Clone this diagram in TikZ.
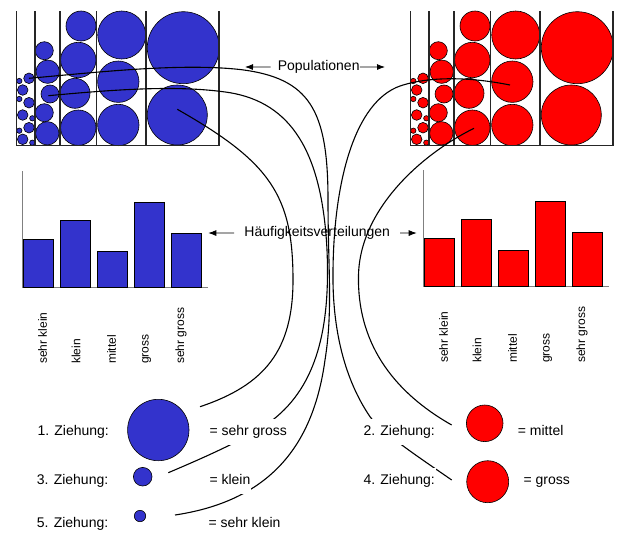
\documentclass[tikz,border=0pt]{standalone}
\usepackage{fontspec}
\setmainfont{Liberation Sans}
\usetikzlibrary{arrows.meta}

\definecolor{popblue}{RGB}{51,51,204}
\definecolor{popred}{RGB}{255,0,0}

\tikzset{
  kugel/.style={circle,draw=black,line width=0.6pt,inner sep=0pt},
  ball/.style={draw=black,line width=0.6pt},
  frame/.style={black!85,line width=1.4pt},
  bar/.style={draw=black,line width=0.9pt},
  axisline/.style={gray,line width=1pt},
  zug/.style={line width=1.1pt,line join=round},
  pfeil/.style={-{Latex[length=8pt,width=6pt]},line width=0.8pt},
  titel/.style={font=\fontsize{14}{16}\selectfont,inner sep=0pt,anchor=base},
  klasse/.style={font=\fontsize{12}{14}\selectfont,rotate=90,anchor=west,inner sep=0pt},
  ziehung/.style={font=\fontsize{14}{16}\selectfont,fill=white,text height=10pt,text depth=3pt,
    inner xsep=1pt,inner ysep=6.5pt,anchor=base west}
}

\begin{document}
\begin{tikzpicture}[x=1pt,y=-1pt]
	\useasboundingbox (0,0) rectangle (628,549);

	%populations
	\foreach \dx/\col in {0/popblue,394/popred}{
	\begin{scope}[xshift=\dx]
		\foreach \x/\y/\r in {19.3/81/2.7, 22.7/90/5.3, 19.3/99/2.7, 29/102.7/5.3, 22.7/115/5.3, 32.3/118.3/2.7,
			29/127.7/5.3, 19.3/130.7/2.7, 22.7/139.3/5.3, 32.3/142.7/2.7, 29/78.3/5.3,
			44.3/50.7/9, 47.7/71.7/11.7, 50/94/9, 44.3/112.7/9, 47.3/133.3/11.7,
			81/26/15, 78.3/60/17.7, 75/93.3/15, 78.3/127.7/17.7,
			121.7/35/24, 118.3/81.7/20.7, 118.3/125/20.7,
			183.3/47.7/36, 177.3/115/30}
			\draw[ball,fill=\col] (\x,\y) circle[radius=\r];
		\foreach \x in {16.7,35,60,96.7,146,219}
			\draw[frame] (\x,11) -- (\x,145.7);
		\draw[frame] (16.7,145.7) -- (219,145.7);
	\end{scope}
	}

	%histograms
	\foreach \dx/\dy/\col/\side in {0/0/popblue/b,401/1/popred/r}{
	\begin{scope}[xshift=\dx,yshift=\dy]
		\draw[axisline] (22.7,171) -- (22.7,287.7) -- (208.3,287.7);
		\foreach \i/\h in {0/48.4,1/67.4,2/36.7,3/85.4,4/54.4}
			\draw[bar,fill=\col] ({23+37*\i},287.7) rectangle ++(30,-\h);
		\foreach \x/\name [count=\k] in {42.7/sehr klein,76/klein,111.7/mittel,146.7/gross,181/sehr gross}
			\node[klasse] (kl\side\k) at (\x,364) {\name};
	\end{scope}
	}

	\node[titel] (pop) at (318.7,70.7) {Populationen};
	\coordinate (popL) at (245,67); \coordinate (popR) at (385,67);
	\draw[pfeil] ([xshift=-7pt]pop.west) -- (popL);
	\draw[pfeil] (pop.east) -- (popR);

	\node[titel] (hv) at (317.2,236.7) {Häufigkeitsverteilungen};
	\coordinate (hvL) at (208.3,233); \coordinate (hvR) at (416.7,233);
	\draw[pfeil] ([xshift=-10pt]hv.west) -- (hvL);
	\draw[pfeil] ([xshift=10pt]hv.east) -- (hvR);

	%draws
	\coordinate (sSK) at (29,78.3);   \coordinate (eSK) at (175,515);
	\coordinate (sK) at (48.3,95.7);  \coordinate (eK) at (168.3,472.7);
	\coordinate (sSG) at (177.3,109.3); \coordinate (eSG) at (200,406.7);
	\coordinate (sG) at (510,85);     \coordinate (eG) at (451.7,480);
	\coordinate (sM) at (474,128.3);  \coordinate (eM) at (451.7,425);

	\draw[zug] (sSK) .. controls (100,72) and (180,63) .. (240,69.5)
		.. controls (310,78) and (328,110) .. (328,200)
		.. controls (328,270) and (333,310) .. (325,360)
		.. controls (314,440) and (275,500) .. (eSK);
	\draw[zug] (sK) .. controls (120,89) and (180,85) .. (230,92.7)
		.. controls (290,103) and (322,150) .. (327,250)
		.. controls (330,320) and (320,380) .. (276.7,416.7)
		.. controls (255,435) and (210,455) .. (eK);
	\draw[zug] (sSG) .. controls (270,162) and (293,195) .. (293,280)
		.. controls (293,350) and (265,385) .. (eSG);
	\draw[zug] (sG) .. controls (470,77) and (430,76) .. (400,86)
		.. controls (355,102) and (334,180) .. (333,270)
		.. controls (332,330) and (345,380) .. (370,416.7)
		.. controls (382,433) and (420,458) .. (eG);
	\draw[zug] (sM) .. controls (420,155) and (360,210) .. (358.5,275)
		.. controls (357,340) and (390,390) .. (eM);

	%results
	\node[ziehung] (t1) at (36.3,435) {1. Ziehung:};
	\node[ziehung] (e1) at (208.3,435) {= sehr gross};
	\node[ziehung] (t3) at (35.7,484.3) {3. Ziehung:};
	\node[ziehung] (e3) at (208.3,484.3) {= klein};
	\node[ziehung] (t5) at (35.7,527.7) {5. Ziehung:};
	\node[ziehung] (e5) at (207.3,527.7) {= sehr klein};
	\node[ziehung] (t2) at (362.3,435) {2. Ziehung:};
	\node[ziehung] (e2) at (516.7,435) {= mittel};
	\node[ziehung] (t4) at (362.3,484.3) {4. Ziehung:};
	\node[ziehung] (e4) at (522.3,484.3) {= gross};

	\node[kugel,fill=popblue,minimum size=61.4pt] (z1) at (158.3,430) {};
	\node[kugel,fill=popblue,minimum size=18.6pt] (z3) at (142.7,476.7) {};
	\node[kugel,fill=popblue,minimum size=11.4pt] (z5) at (140,516) {};
	\node[kugel,fill=popred,minimum size=36.6pt] (z2) at (484.7,423.3) {};
	\node[kugel,fill=popred,minimum size=42pt] (z4) at (487.7,481.7) {};
\end{tikzpicture}
\end{document}
